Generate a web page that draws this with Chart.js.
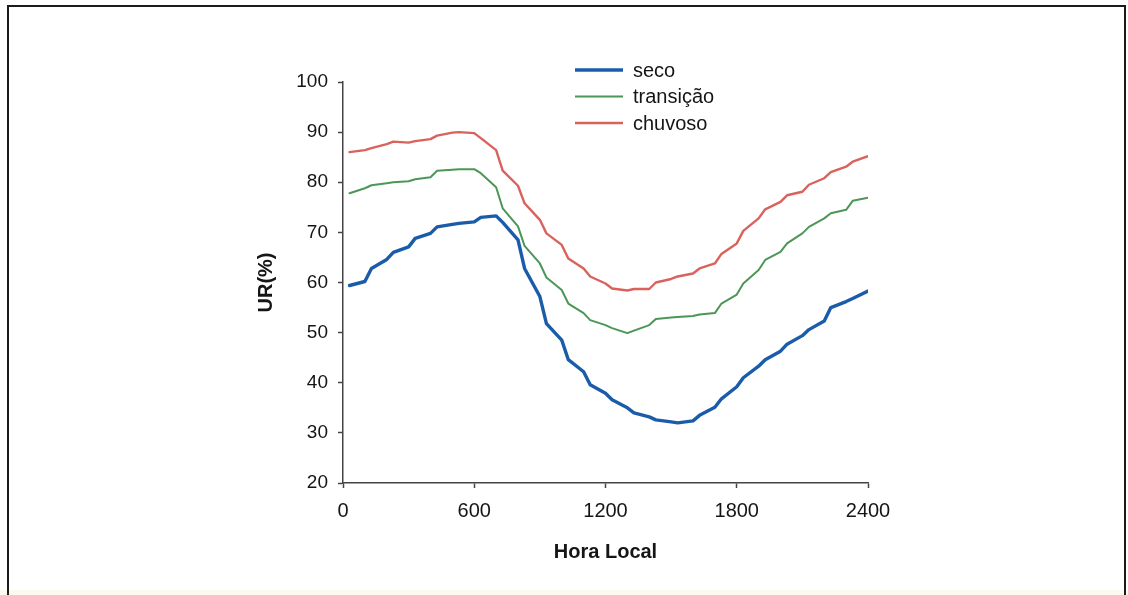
<!DOCTYPE html>
<html>
<head>
<meta charset="utf-8">
<title>UR(%) x Hora Local</title>
<script src="https://cdn.jsdelivr.net/npm/chart.js@4"></script>
<style>
    html, body { margin: 0; padding: 0; background: #fff; }
    #wrap { position: relative; width: 1128px; height: 595px; overflow: hidden; }
    #frame {
        position: absolute; left: 7px; top: 5px; width: 1115px; height: 600px;
        border-left: 2px solid #1b1b1b; border-top: 2px solid #1b1b1b; border-right: 2px solid #1b1b1b;
        pointer-events: none;
    }
    #bottom-band { position: absolute; left: 0; bottom: 0; width: 1128px; height: 5px; background: #fcfaef; }
    #chart { position: absolute; left: 0; top: 0; }
</style>
</head>
<body>
<div id="wrap">
    <div id="bottom-band"></div>
    <canvas id="chart" width="1128" height="595"></canvas>
    <div id="frame"></div>
</div>
<script>
// hora local (HHMM), medias a cada 30 min
const horas = [30, 100, 130, 200, 230, 300, 330, 400, 430, 500, 530, 600,
    630, 700, 730, 800, 830, 900, 930, 1000, 1030, 1100, 1130, 1200,
    1230, 1300, 1330, 1400, 1430, 1500, 1530, 1600, 1630, 1700, 1730, 1800,
    1830, 1900, 1930, 2000, 2030, 2100, 2130, 2200, 2230, 2300, 2330, 2400];

const seco = [59.4, 60.2, 62.8, 64.6, 66.0, 67.1, 68.8, 69.8, 71.1, 71.6, 71.8, 72.1,
    73.0, 73.3, 72.0, 68.5, 62.8, 57.2, 51.8, 48.5, 44.6, 42.2, 39.6, 37.9,
    36.6, 35.0, 34.0, 33.2, 32.6, 32.2, 32.0, 32.4, 33.5, 35.1, 36.8, 39.2,
    41.0, 43.3, 44.6, 46.3, 47.7, 49.4, 50.6, 52.3, 55.0, 56.2, 56.8, 58.3];

const transicao = [77.8, 78.8, 79.4, 79.8, 80.0, 80.2, 80.6, 81.0, 82.3, 82.5, 82.6, 82.6,
    81.8, 79.0, 74.8, 71.2, 67.3, 63.8, 61.0, 58.5, 55.8, 53.9, 52.5, 51.5,
    50.9, 49.9, 50.4, 51.5, 52.7, 53.0, 53.1, 53.3, 53.6, 53.9, 55.8, 57.6,
    59.8, 62.5, 64.5, 66.1, 67.8, 69.8, 71.1, 72.8, 73.8, 74.5, 76.3, 76.9];

const chuvoso = [86.0, 86.4, 86.8, 87.6, 88.1, 87.9, 88.2, 88.6, 89.3, 89.9, 90.0, 89.8,
    88.8, 86.4, 82.3, 79.3, 75.8, 72.5, 69.8, 67.5, 64.8, 62.8, 61.2, 59.8,
    58.8, 58.4, 58.7, 58.7, 60.0, 60.7, 61.2, 61.8, 62.8, 63.8, 65.7, 67.8,
    70.3, 72.8, 74.6, 76.1, 77.4, 78.1, 79.5, 80.8, 82.0, 83.1, 84.1, 85.2];

const FONT = '"Liberation Sans", Arial, sans-serif';
const INK = '#151515';

function pontos(valores) {
    return horas.map((h, i) => ({ x: h, y: valores[i] }));
}

// legenda em coluna, acima da area do grafico
const legendaColuna = {
    id: 'legendaColuna',
    afterDraw(chart) {
        const ctx = chart.ctx;
        ctx.save();
        ctx.font = '20px ' + FONT;
        ctx.fillStyle = INK;
        ctx.textBaseline = 'middle';
        chart.data.datasets.forEach((ds, i) => {
            const y = 70 + i * 26.5;
            ctx.strokeStyle = ds.borderColor;
            ctx.lineWidth = ds.borderWidth;
            ctx.beginPath();
            ctx.moveTo(575, y);
            ctx.lineTo(623, y);
            ctx.stroke();
            ctx.fillText(ds.label, 633, y + 1);
        });
        ctx.restore();
    }
};

const ctx = document.getElementById('chart').getContext('2d');

new Chart(ctx, {
    type: 'line',
    data: {
        datasets: [
            { label: 'seco', data: pontos(seco), borderColor: '#1a5ca9', borderWidth: 3.4 },
            { label: 'transição', data: pontos(transicao), borderColor: '#4c9657', borderWidth: 2 },
            { label: 'chuvoso', data: pontos(chuvoso), borderColor: '#d9625c', borderWidth: 2.4 }
        ]
    },
    options: {
        responsive: false,
        animation: false,
        layout: { padding: { left: 0, top: 82, right: 260, bottom: 0 } },
        elements: {
            point: { radius: 0 },
            line: { tension: 0, borderCapStyle: 'round', borderJoinStyle: 'round' }
        },
        scales: {
            x: {
                type: 'linear',
                min: 0,
                max: 2400,
                afterFit: (scale) => { scale.height = 112; },
                ticks: {
                    stepSize: 600,
                    color: INK,
                    padding: 11,
                    maxRotation: 0,
                    font: { family: FONT, size: 20 },
                    callback: (v) => String(v)
                },
                grid: { drawOnChartArea: false, drawTicks: true, tickLength: 5, tickColor: '#444', tickWidth: 1.5 },
                border: { color: '#444', width: 1.5 },
                title: {
                    display: true,
                    text: 'Hora Local',
                    color: INK,
                    font: { family: FONT, size: 20, weight: 'bold' },
                    padding: { top: 0, bottom: 31 }
                }
            },
            y: {
                min: 20,
                max: 100,
                afterFit: (scale) => { scale.width = 343; },
                ticks: { stepSize: 10, color: INK, padding: 10, font: { family: FONT, size: 19 } },
                grid: { drawOnChartArea: false, drawTicks: true, tickLength: 5, tickColor: '#444', tickWidth: 1.5 },
                border: { color: '#444', width: 1.5 },
                title: {
                    display: true,
                    text: 'UR(%)',
                    color: INK,
                    font: { family: FONT, size: 20, weight: 'bold' },
                    padding: { top: 254, bottom: 0 }
                }
            }
        },
        plugins: {
            legend: { display: false },
            tooltip: { enabled: false }
        }
    },
    plugins: [legendaColuna]
});
</script>
</body>
</html>
